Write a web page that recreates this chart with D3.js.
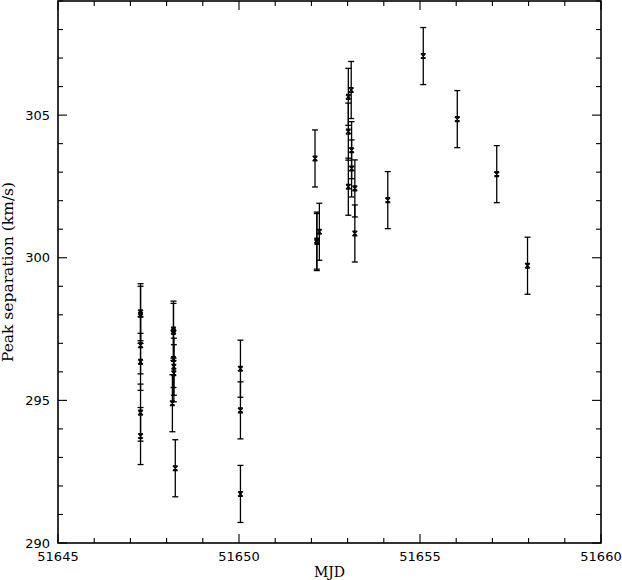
<!DOCTYPE html>
<html><head><meta charset="utf-8">
<script src="https://cdn.jsdelivr.net/npm/d3@7"></script>
<style>body{margin:0;background:#fff}svg{display:block}</style>
</head><body>
<script>
const mjd = [51647.28,51647.28,51647.28,51647.28,51647.28,51647.28,
  51648.19,51648.19,51648.19,51648.2,51648.2,51648.16,51648.24,
  51650.04,51650.04,51650.04,
  51652.10,51652.15,51652.15,51652.22,
  51653.02,51653.10,51653.02,51653.11,51653.11,51653.02,51653.20,51653.20,
  51654.11,51655.09,51656.03,51657.12,51657.97];
const sep = [298.09,298.00,296.93,296.35,294.57,293.75,
  297.48,297.40,296.45,296.18,295.95,294.90,292.62,
  296.11,294.65,291.72,
  303.48,300.60,300.55,300.91,
  305.64,305.88,304.42,303.77,303.13,302.49,302.43,300.85,
  302.02,307.07,304.86,302.93,299.72];
const err = sep.map(()=>1.0);
const xTicks = [51645,51650,51655,51660];
const yTicks = [290,295,300,305];

const W=622,H=580, L=58, R=601, T=1, B=543;
const svg = d3.select("body").append("svg").attr("width",W).attr("height",H);
const x = d3.scaleLinear().domain([51645,51660]).range([L,R]);
const y = d3.scaleLinear().domain([290,309]).range([B,T]);
const ink="#000";

// error bars
const g = svg.append("g").attr("stroke",ink).attr("stroke-width",1.3).attr("fill","none");
sep.forEach((v,i)=>{
  const cx = x(mjd[i]), y0=y(v-err[i]), y1=y(v+err[i]);
  g.append("line").attr("x1",cx).attr("x2",cx).attr("y1",y0).attr("y2",y1);
  g.append("line").attr("x1",cx-3).attr("x2",cx+3).attr("y1",y0).attr("y2",y0);
  g.append("line").attr("x1",cx-3).attr("x2",cx+3).attr("y1",y1).attr("y2",y1);
});
// markers (hourglass-ish x)
const mg = svg.append("g").attr("stroke",ink).attr("stroke-width",1.3).attr("fill","none");
sep.forEach((v,i)=>{
  const cx=x(mjd[i]), cy=y(v), s=2.4;
  mg.append("path").attr("d",`M${cx-s},${cy-s}L${cx+s},${cy+s}M${cx+s},${cy-s}L${cx-s},${cy+s}M${cx-s},${cy-s}L${cx+s},${cy-s}M${cx-s},${cy+s}L${cx+s},${cy+s}`);
});

// frame
svg.append("rect").attr("x",L).attr("y",T).attr("width",R-L).attr("height",B-T)
  .attr("fill","none").attr("stroke",ink).attr("stroke-width",1.6);

// ticks
const tg = svg.append("g").attr("stroke",ink).attr("stroke-width",1.1);
d3.range(51645,51661,1).forEach(t=>{
  const major = xTicks.includes(t), len = major?9:5, px=x(t);
  tg.append("line").attr("x1",px).attr("x2",px).attr("y1",B).attr("y2",B-len);
  tg.append("line").attr("x1",px).attr("x2",px).attr("y1",T).attr("y2",T+len);
});
d3.range(290,310,1).forEach(t=>{
  const major = yTicks.includes(t), len = major?9:5, py=y(t);
  tg.append("line").attr("x1",L).attr("x2",L+len).attr("y1",py).attr("y2",py);
  tg.append("line").attr("x1",R).attr("x2",R-len).attr("y1",py).attr("y2",py);
});

// tick labels
const font="'DejaVu Sans', sans-serif";
svg.append("g").selectAll("text").data(xTicks).join("text")
  .attr("x",d=>x(d)).attr("y",561).attr("text-anchor","middle")
  .attr("font-family",font).attr("font-size",13).attr("fill",ink).text(d=>d);
svg.append("g").selectAll("text").data(yTicks).join("text")
  .attr("x",50).attr("y",d=>y(d)).attr("dy","0.36em").attr("text-anchor","end")
  .attr("font-family",font).attr("font-size",13).attr("fill",ink).text(d=>d);

// axis titles
svg.append("text").attr("x",(L+R)/2).attr("y",577).attr("text-anchor","middle")
  .attr("font-family","'DejaVu Serif', serif").attr("font-size",14).attr("fill",ink).text("MJD");
svg.append("text").attr("transform",`translate(13,${(T+B)/2}) rotate(-90)`)
  .attr("text-anchor","middle").attr("font-family","'DejaVu Serif', serif")
  .attr("font-size",15.5).attr("fill",ink).text("Peak separation (km/s)");
</script>
</body></html>
